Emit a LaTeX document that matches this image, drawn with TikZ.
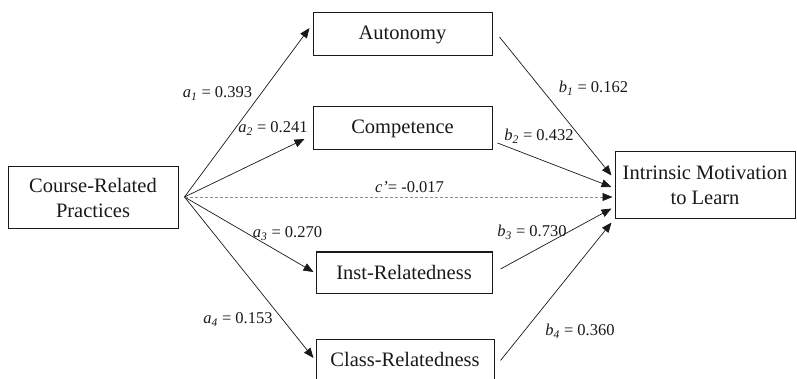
\documentclass[tikz,border=0pt]{standalone}
\usepackage{fontspec}
\setmainfont{Liberation Serif}
\usetikzlibrary{arrows.meta}
\begin{document}
\begin{tikzpicture}[x=1pt,y=-1pt,
  box/.style={draw=black!90,line width=1pt,inner sep=0pt,align=center,
    font=\fontsize{20.5}{25}\selectfont,text=black!90},
  lbl/.style={anchor=base,inner sep=0pt,font=\fontsize{16.5}{19}\selectfont,text=black!90},
  arr/.style={draw=black!90,line width=0.7pt,-{Triangle[length=10pt,width=8pt]}},
  darr/.style={draw=black!45,line width=0.8pt,dash pattern=on 3pt off 2pt,
    -{Triangle[length=10pt,width=8pt,color=black!90,fill=black!90]}}]
\useasboundingbox (0,0) rectangle (797,379);
\node[box,minimum width=170pt,minimum height=62pt] (crp) at (93,198) {Course-Related\\Practices};
\node[box,minimum width=179pt,minimum height=43pt] (aut) at (402.5,34.5) {Autonomy};
\node[box,minimum width=179pt,minimum height=43pt] (comp) at (402.5,128.5) {Competence};
\node[box,minimum width=176pt,minimum height=41pt] (inst) at (404,272.5) {Inst-Relatedness};
\node[box,minimum width=178pt,minimum height=47pt,text depth=6pt] (cls) at (405,362.5) {Class-Relatedness};
\node[box,minimum width=180pt,minimum height=67pt] (imtl) at (705,185.5) {Intrinsic Motivation\\to Learn};
\coordinate (src) at ([xshift=6pt,yshift=1pt]crp.east);
% a paths
\draw[arr] (src) -- ([xshift=-3pt,yshift=6.5pt]aut.west);
\draw[arr] (src) -- ([xshift=-8pt,yshift=-10.5pt]comp.west);
\draw[arr] (src) -- ([xshift=-2pt,yshift=0.5pt]inst.west);
\draw[arr] (src) -- ([xshift=-2pt,yshift=4.5pt]cls.west);
% direct
\draw[darr] (src) -- ([xshift=-2pt,yshift=-11.5pt]imtl.west);
% b paths
\draw[arr] ([xshift=7pt,yshift=-2.5pt]aut.east) -- ([xshift=-3pt,yshift=10pt]imtl.west);
\draw[arr] ([xshift=5pt,yshift=-14.5pt]comp.east) -- ([xshift=-3pt,yshift=-1.5pt]imtl.west);
\draw[arr] ([xshift=8pt,yshift=3.5pt]inst.east) -- ([xshift=-3pt,yshift=-23pt]imtl.west);
\draw[arr] ([xshift=6pt,yshift=2pt]cls.east) -- ([xshift=-3pt,yshift=-37pt]imtl.west);
% labels
\node[lbl] (la1) at (217.5,97.5) {\textit{a}\textsubscript{\textit{1}} = 0.393};
\node[lbl] (la2) at (273,132.5) {\textit{a}\textsubscript{\textit{2}} = 0.241};
\node[lbl] (lc) at (409.5,192.5) {\textit{c’}= -0.017};
\node[lbl] (lb1) at (593.5,92.5) {\textit{b}\textsubscript{\textit{1}} = 0.162};
\node[lbl] (lb2) at (539,140.5) {\textit{b}\textsubscript{\textit{2}} = 0.432};
\node[lbl] (la3) at (287.5,237.5) {\textit{a}\textsubscript{\textit{3}} = 0.270};
\node[lbl] (la4) at (238,323.5) {\textit{a}\textsubscript{\textit{4}} = 0.153};
\node[lbl] (lb3) at (532,236.5) {\textit{b}\textsubscript{\textit{3}} = 0.730};
\node[lbl] (lb4) at (580,335.5) {\textit{b}\textsubscript{\textit{4}} = 0.360};
\end{tikzpicture}
\end{document}
